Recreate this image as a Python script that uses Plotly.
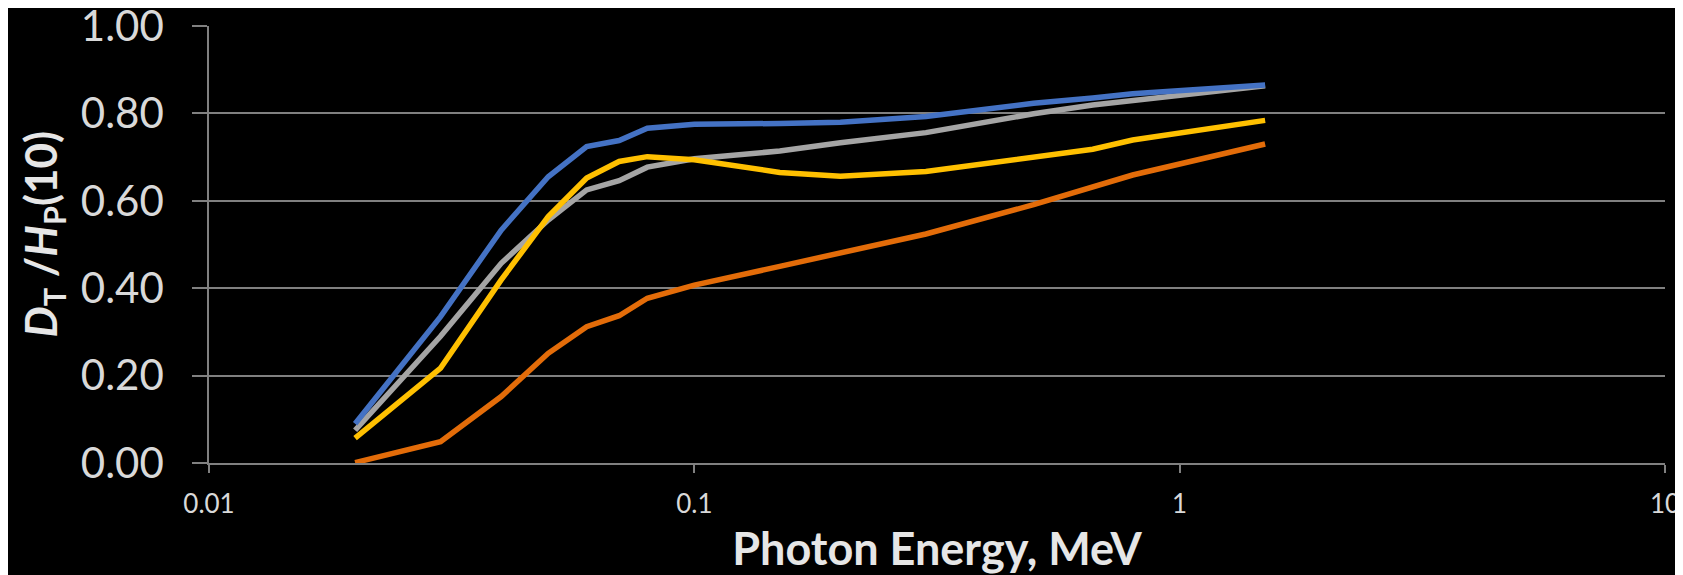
import plotly.graph_objects as go

# photon energies, MeV
energy = [0.02, 0.03, 0.04, 0.05, 0.06, 0.07, 0.08, 0.1, 0.15, 0.2, 0.3, 0.5, 0.662, 0.8, 1.5]

# D_T / Hp(10) ratios
blue = [0.090, 0.335, 0.533, 0.655, 0.724, 0.738, 0.766, 0.775, 0.777, 0.780, 0.793, 0.823, 0.835, 0.845, 0.865]
orange = [0.001, 0.049, 0.152, 0.251, 0.312, 0.337, 0.377, 0.407, 0.450, 0.480, 0.524, 0.591, 0.633, 0.659, 0.730]
gray = [0.075, 0.290, 0.457, 0.556, 0.625, 0.646, 0.677, 0.696, 0.714, 0.733, 0.756, 0.799, 0.819, 0.829, 0.863]
yellow = [0.057, 0.217, 0.419, 0.564, 0.652, 0.690, 0.701, 0.694, 0.665, 0.656, 0.667, 0.701, 0.718, 0.739, 0.784]

x_ticks = [0.01, 0.1, 1, 10]
x_tick_labels = ["0.01", "0.1", "1", "10"]
y_ticks = [0.0, 0.2, 0.4, 0.6, 0.8, 1.0]

txt = "#D9D9D9"
grid = "#808080"

fig = go.Figure()

for vals, col in [(orange, "#E36C09"), (gray, "#A5A5A5"), (yellow, "#FFC000"), (blue, "#4472C4")]:
    fig.add_trace(go.Scatter(x=energy, y=vals, mode="lines",
                             line=dict(color=col, width=5.5), showlegend=False))

# page body has an 8px margin, so the figure is 8px smaller than the window
fig.update_layout(
    width=1675, height=567,
    paper_bgcolor="black", plot_bgcolor="black",
    margin=dict(l=201, r=18, t=18, b=112),
    font=dict(family="Lato, sans-serif", color=txt),
)

fig.update_xaxes(
    type="log", range=[-2, 1], automargin=False,
    tickvals=x_ticks, ticktext=x_tick_labels,
    showgrid=False, zeroline=False,
    showline=True, linecolor=grid, linewidth=1.5,
    ticks="outside", ticklen=8, tickcolor=grid, tickwidth=1.5,
    tickfont=dict(size=26, color=txt),
    ticklabelstandoff=9, ticklabeloverflow="allow",
    title=dict(text="<b>Photon Energy, MeV</b>", font=dict(size=45, color="#E6E6E6"),
               standoff=16),
)

fig.update_yaxes(
    range=[0, 1], tickvals=y_ticks, tickformat=".2f", automargin=False,
    showgrid=True, gridcolor=grid, gridwidth=1.5, zeroline=False,
    showline=True, linecolor=grid, linewidth=1.5,
    ticks="outside", ticklen=15, tickcolor=grid, tickwidth=1.5,
    tickfont=dict(size=42, color=txt),
    ticklabelstandoff=20, ticklabeloverflow="allow",
)

# y axis title, placed by hand so it sits where the reference has it
fig.add_annotation(
    text="<b><i>D</i><sub>T</sub> /<i>H</i><sub>P</sub>(10)</b>",
    textangle=-90, showarrow=False,
    xref="paper", yref="paper", x=0, y=0.5,
    xanchor="center", yanchor="middle", xshift=-166, yshift=10,
    font=dict(size=44, color="#E6E6E6"),
)

fig.write_html("out.html")
